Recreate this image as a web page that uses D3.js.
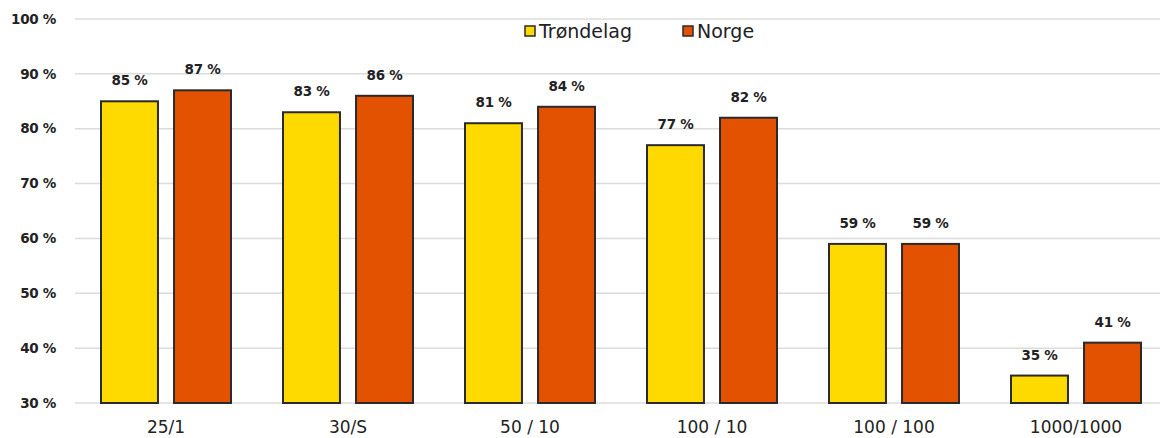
<!DOCTYPE html>
<html>
<head>
<meta charset="utf-8">
<script src="https://cdn.jsdelivr.net/npm/d3@7"></script>
<style>
  body { margin: 0; background: #fff; }
  text { font-family: "DejaVu Sans", Verdana, sans-serif; fill: #222; }
</style>
</head>
<body>
<svg id="chart" width="1160" height="438"></svg>
<script>
// data
const categories = ["25/1", "30/S", "50 / 10", "100 / 10", "100 / 100", "1000/1000"];
const seriesNames = ["Trøndelag", "Norge"];
const trondelag = [85, 83, 81, 77, 59, 35];
const norge = [87, 86, 84, 82, 59, 41];
const yTicks = [30, 40, 50, 60, 70, 80, 90, 100];
const colors = ["#FFDA00", "#E35200"];

const svg = d3.select("#chart");

const x = d3.scaleBand().domain(categories).range([75, 1167]).paddingInner(0).paddingOuter(0);
const x1 = d3.scaleBand().domain(seriesNames).range([26, x.bandwidth() - 26]).paddingInner(0.22);
const y = d3.scaleLinear().domain([30, 100]).range([403, 19]);

// gridlines
svg.append("g").selectAll("line")
  .data(yTicks)
  .enter().append("line")
  .attr("x1", 75).attr("x2", 1160)
  .attr("y1", d => y(d)).attr("y2", d => y(d))
  .attr("stroke", "#dcdcdc").attr("stroke-width", 1.5);

// y tick labels
svg.append("g").selectAll("text")
  .data(yTicks)
  .enter().append("text")
  .attr("x", 56).attr("y", d => y(d))
  .attr("dy", "0.35em")
  .attr("text-anchor", "end")
  .attr("font-size", 13.5)
  .attr("font-weight", "bold")
  .attr("letter-spacing", "-0.3")
  .text(d => d + " %");

const rows = categories.map((c, i) => ({ cat: c, vals: [trondelag[i], norge[i]] }));

const groups = svg.append("g").selectAll("g")
  .data(rows)
  .enter().append("g")
  .attr("transform", d => `translate(${x(d.cat)},0)`);

groups.selectAll("rect")
  .data(d => d.vals.map((v, j) => ({ name: seriesNames[j], v, j })))
  .enter().append("rect")
  .attr("x", d => x1(d.name))
  .attr("width", x1.bandwidth())
  .attr("y", d => y(d.v))
  .attr("height", d => y(30) - y(d.v))
  .attr("fill", d => colors[d.j])
  .attr("stroke", "#2a2a2a")
  .attr("stroke-width", 2);

groups.selectAll("text.val")
  .data(d => d.vals.map((v, j) => ({ name: seriesNames[j], v, j })))
  .enter().append("text")
  .attr("class", "val")
  .attr("x", d => x1(d.name) + x1.bandwidth() / 2)
  .attr("y", d => y(d.v) - 16)
  .attr("text-anchor", "middle")
  .attr("font-size", 13.5)
  .attr("font-weight", "bold")
  .attr("letter-spacing", "-0.3")
  .text(d => d.v + " %");

// category labels
svg.append("g").selectAll("text")
  .data(categories)
  .enter().append("text")
  .attr("x", d => x(d) + x.bandwidth() / 2)
  .attr("y", 433)
  .attr("text-anchor", "middle")
  .attr("font-size", 17)
  .text(d => d);

// legend
const legendX = [525, 683];
const legend = svg.append("g").selectAll("g")
  .data(seriesNames)
  .enter().append("g")
  .attr("transform", (d, i) => `translate(${legendX[i]},31)`);
legend.append("rect")
  .attr("x", 0).attr("y", -5).attr("width", 10).attr("height", 10)
  .attr("fill", (d, i) => colors[i])
  .attr("stroke", "#2a2a2a").attr("stroke-width", 1.5);
legend.append("text")
  .attr("x", 14).attr("y", 0).attr("dy", "0.35em")
  .attr("font-size", 19)
  .text(d => d);
</script>
</body>
</html>
